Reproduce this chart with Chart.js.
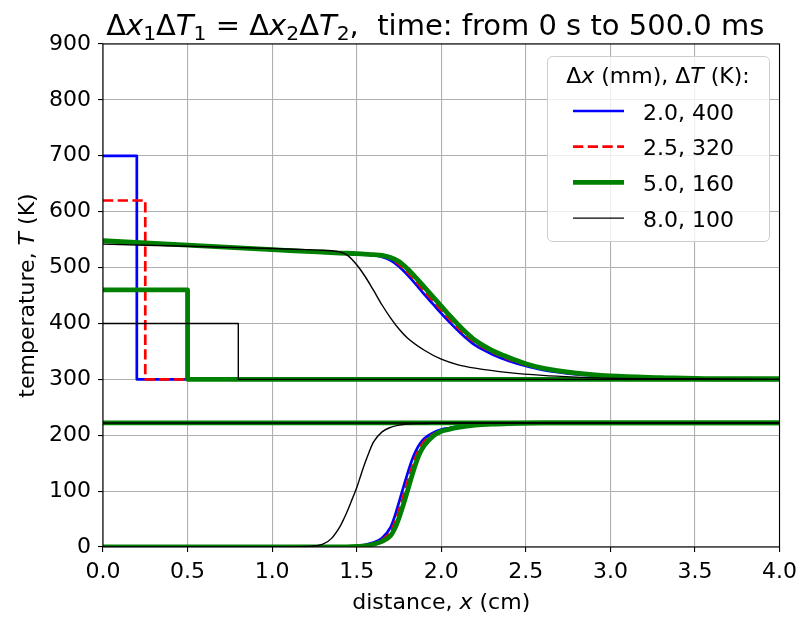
<!DOCTYPE html>
<html>
<head>
<meta charset="utf-8">
<script src="https://cdn.jsdelivr.net/npm/chart.js@4.4.1/dist/chart.umd.min.js"></script>
<style>
  html, body { margin: 0; padding: 0; background: #fff; }
  #wrap { width: 804px; height: 619px; }
</style>
</head>
<body>
<div id="wrap"><canvas id="chart" width="804" height="619"></canvas></div>
<script>
// Δx (mm), ΔT (K) cases
const caseLabels = ['2.0, 400', '2.5, 320', '5.0, 160', '8.0, 100'];

// t = 0: hot slab of width Δx
const initEdge = [0.2, 0.25, 0.5, 0.8];   // cm
const initHot = [700, 620, 460, 400];     // K
const initBase = 300;                     // K
const coldLevel = 222;                    // K

// t = 500 ms, upper profiles
const xHot     = [0, 0.5, 1.0, 1.2, 1.4, 1.5, 1.6, 1.65, 1.7, 1.75, 1.8, 1.85, 1.9, 1.95, 2.0, 2.05, 2.1, 2.15, 2.2, 2.3, 2.4, 2.5, 2.6, 2.8, 3.0, 3.3, 3.6, 4.0];
const hotBlue  = [548, 540, 532, 529, 526, 524, 522, 519, 513, 502, 487, 470, 452, 435, 418, 402, 387, 373, 361, 345, 333, 324, 317, 309, 305, 302, 300, 300];
const hotRed   = [548, 540, 532, 529, 526, 525, 523, 521, 516, 506, 492, 476, 458, 441, 424, 408, 392, 378, 366, 349, 336, 326, 319, 310, 305, 302, 301, 300];
const hotGreen = [548, 540, 532, 529, 526, 525, 523, 522, 518, 511, 498, 482, 465, 448, 431, 414, 398, 383, 370, 352, 339, 328, 320, 311, 306, 303, 301, 301];
const xHotK    = [0, 0.5, 1.0, 1.2, 1.3, 1.35, 1.4, 1.45, 1.5, 1.55, 1.6, 1.65, 1.7, 1.75, 1.8, 1.9, 2.0, 2.1, 2.2, 2.4, 2.6, 2.8, 3.0, 3.5, 4.0];
const hotBlack = [542, 538, 534, 532, 531, 530, 528, 521, 505, 484, 459, 433, 410, 390, 374, 352, 336, 326, 320, 312, 307, 304, 302, 301, 300];

// t = 500 ms, lower profiles
const xCold     = [0, 1.4, 1.5, 1.55, 1.6, 1.65, 1.7, 1.725, 1.75, 1.775, 1.8, 1.825, 1.85, 1.875, 1.9, 1.95, 2.0, 2.05, 2.1, 2.2, 2.3, 2.4, 2.6, 4.0];
const coldBlue  = [0, 0, 1, 4, 8, 16, 35, 55, 80, 106, 131, 154, 172, 185, 194, 204, 210, 213, 216, 219, 221, 222, 222, 222];
const coldRed   = [0, 0, 1, 3, 6, 13, 27, 43, 65, 90, 116, 140, 162, 178, 189, 201, 208, 212, 215, 218, 220, 221, 222, 222];
const coldGreen = [0, 0, 1, 2, 5, 10, 20, 33, 52, 75, 100, 126, 150, 169, 182, 198, 207, 211, 214, 218, 220, 221, 222, 222];
const xColdK    = [0, 1.0, 1.2, 1.3, 1.35, 1.4, 1.425, 1.45, 1.475, 1.5, 1.525, 1.55, 1.575, 1.6, 1.65, 1.7, 1.75, 1.8, 1.9, 2.0, 2.5, 4.0];
const coldBlack = [0, 0, 1, 5, 15, 36, 51, 68, 87, 106, 129, 151, 171, 188, 206, 214, 218, 220, 221, 222, 222, 222];

const COLORS = ['#0000ff', '#ff0000', '#008000', '#000000'];
const WIDTHS = [2.7, 2.7, 4.8, 1.4];
const DASHES = [[], [10.3, 4.4], [], []];
const FONT = "'DejaVu Sans', sans-serif";

const hotX = [xHot, xHot, xHot, xHotK];
const hotY = [hotBlue, hotRed, hotGreen, hotBlack];
const coldX = [xCold, xCold, xCold, xColdK];
const coldY = [coldBlue, coldRed, coldGreen, coldBlack];

const pts = (xs, ys) => xs.map((x, i) => ({ x, y: ys[i] }));

const datasets = [];
caseLabels.forEach((label, i) => {
  const style = {
    borderColor: COLORS[i],
    borderWidth: WIDTHS[i],
    borderDash: DASHES[i],
    borderJoinStyle: 'round',
    showLine: true,
    pointRadius: 0,
    clip: 0,
    order: 3 - i,   // black drawn last
  };
  datasets.push({ ...style, label, data: [
    { x: 0, y: initHot[i] }, { x: initEdge[i], y: initHot[i] },
    { x: initEdge[i], y: initBase }, { x: 4, y: initBase }] });
  datasets.push({ ...style, label, data: [{ x: 0, y: coldLevel }, { x: 4, y: coldLevel }] });
  datasets.push({ ...style, label, cubicInterpolationMode: 'monotone', data: pts(hotX[i], hotY[i]) });
  datasets.push({ ...style, label, cubicInterpolationMode: 'monotone', data: pts(coldX[i], coldY[i]) });
});

// mixed upright / italic / subscript text
function drawRuns(ctx, runs, x, y, align) {
  const f = r => `${r.it ? 'italic ' : ''}${r.s}px ${FONT}`;
  let w = 0;
  runs.forEach(r => { ctx.font = f(r); w += ctx.measureText(r.t).width; });
  let cx = align === 'center' ? x - w / 2 : x;
  ctx.textAlign = 'left';
  ctx.textBaseline = 'alphabetic';
  runs.forEach(r => {
    ctx.font = f(r);
    ctx.fillText(r.t, cx, y + (r.dy || 0));
    cx += ctx.measureText(r.t).width;
  });
}

const textPlugin = {
  id: 'texts',
  afterDatasetsDraw(chart) {
    const { ctx, chartArea: a } = chart;
    ctx.save();
    ctx.strokeStyle = '#000';
    ctx.lineWidth = 1.1;
    ctx.strokeRect(a.left, a.top, a.right - a.left, a.bottom - a.top);
    ctx.restore();
  },
  afterDraw(chart) {
    const { ctx, chartArea: a } = chart;
    const cx = (a.left + a.right) / 2;
    ctx.save();
    ctx.fillStyle = '#000';

    // title
    const S = 29, sub = S * 0.7, d = S * 0.18;
    drawRuns(ctx, [
      { t: 'Δ', s: S }, { t: 'x', s: S, it: true }, { t: '1', s: sub, dy: d },
      { t: 'Δ', s: S }, { t: 'T', s: S, it: true }, { t: '1', s: sub, dy: d },
      { t: ' = ', s: S },
      { t: 'Δ', s: S }, { t: 'x', s: S, it: true }, { t: '2', s: sub, dy: d },
      { t: 'Δ', s: S }, { t: 'T', s: S, it: true }, { t: '2', s: sub, dy: d },
      { t: ',  time: from 0 s to 500.0 ms', s: S },
    ], cx - 6, 35, 'center');

    // axis labels
    drawRuns(ctx, [
      { t: 'distance, ', s: 22 }, { t: 'x', s: 22, it: true }, { t: ' (cm)', s: 22 },
    ], cx, 609, 'center');
    ctx.save();
    ctx.translate(33.5, (a.top + a.bottom) / 2);
    ctx.rotate(-Math.PI / 2);
    drawRuns(ctx, [
      { t: 'temperature, ', s: 22 }, { t: 'T', s: 22, it: true }, { t: ' (K)', s: 22 },
    ], 0, 0, 'center');
    ctx.restore();

    // legend
    const bx = 547, by = 56, bw = 222, bh = 185;
    ctx.beginPath();
    ctx.roundRect(bx + 0.5, by + 0.5, bw, bh, 5);
    ctx.fillStyle = 'rgba(255,255,255,0.8)';
    ctx.fill();
    ctx.strokeStyle = '#cccccc';
    ctx.lineWidth = 1;
    ctx.stroke();
    ctx.fillStyle = '#000';
    drawRuns(ctx, [
      { t: 'Δ', s: 22 }, { t: 'x', s: 22, it: true }, { t: ' (mm), Δ', s: 22 },
      { t: 'T', s: 22, it: true }, { t: ' (K):', s: 22 },
    ], bx + bw / 2, 83, 'center');
    caseLabels.forEach((label, i) => {
      const ly = 111 + i * 35.7;
      ctx.beginPath();
      ctx.strokeStyle = COLORS[i];
      ctx.lineWidth = WIDTHS[i];
      ctx.setLineDash(DASHES[i]);
      ctx.moveTo(573, ly);
      ctx.lineTo(624, ly);
      ctx.stroke();
      ctx.setLineDash([]);
      drawRuns(ctx, [{ t: label, s: 22 }], 643, ly + 8.5, 'left');
    });
    ctx.restore();
  },
};

const gridOpts = {
  color: '#b0b0b0',
  lineWidth: 1.1,
  tickLength: 5,
  tickColor: '#000',
  tickWidth: 1.1,
};

new Chart(document.getElementById('chart'), {
  type: 'scatter',
  data: { datasets },
  options: {
    responsive: false,
    animation: false,
    events: [],
    layout: { padding: { left: 0, top: 44, right: 23, bottom: 0 } },
    plugins: { legend: { display: false }, title: { display: false }, tooltip: { enabled: false } },
    scales: {
      x: {
        type: 'linear',
        min: 0,
        max: 4,
        grid: gridOpts,
        border: { display: false },
        ticks: {
          stepSize: 0.5,
          autoSkip: false,
          maxRotation: 0,
          padding: 7,
          color: '#000',
          font: { family: FONT, size: 22 },
          callback: v => Number(v).toFixed(1),
        },
        afterFit: s => { s.height = 72; },
      },
      y: {
        min: 0,
        max: 900,
        grid: gridOpts,
        border: { display: false },
        ticks: {
          stepSize: 100,
          padding: 7,
          color: '#000',
          font: { family: FONT, size: 22 },
        },
        afterFit: s => { s.width = 103; },
      },
    },
  },
  plugins: [textPlugin],
});
</script>
</body>
</html>
